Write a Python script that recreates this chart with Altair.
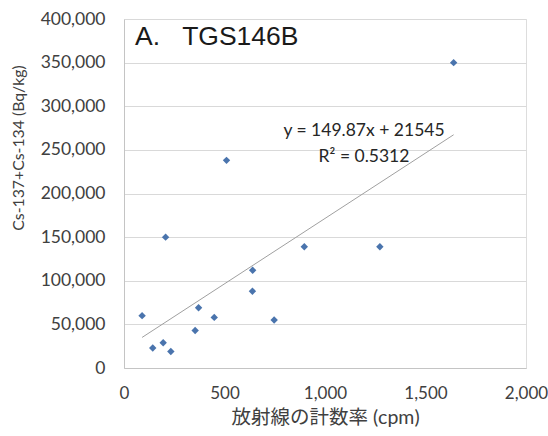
import altair as alt
import pandas as pd

# Data
cpm = [90, 143, 195, 233, 207, 354, 371, 449, 639, 640, 747, 897, 1273, 510, 1640]
bq = [60000, 23000, 29000, 19000, 150000, 43000, 69000, 58000, 88000, 112000, 55000, 139000, 139000, 238000, 350000]

slope = 149.87
intercept = 21545
eq_line1 = "y = 149.87x + 21545"
eq_line2 = "R² = 0.5312"
panel_title = "A.\u00a0\u00a0\u00a0TGS146B"
y_title = "Cs-137+Cs-134 (Bq/kg)"
x_title = "放射線の計数率 (cpm)"

x_ticks = [0, 500, 1000, 1500, 2000]
y_ticks = [0, 50000, 100000, 150000, 200000, 250000, 300000, 350000, 400000]

df = pd.DataFrame({"cpm": cpm, "bq": bq})
trend = pd.DataFrame({"cpm": [min(cpm), max(cpm)]})

FONT = "Lato, Noto Sans CJK JP, sans-serif"
TXT = "#404040"
FRAME = "#c4c4c4"

xs = alt.Scale(domain=[0, 2000], nice=False, zero=True)
ys = alt.Scale(domain=[0, 400000], nice=False)

x_axis = alt.Axis(values=x_ticks, format=",.0f", title=x_title,
                  grid=False, ticks=False, labelPadding=17, labelFlush=False,
                  titleBaseline="middle", titleY=49,
                  domainColor=FRAME, labelFontSize=17, titleFontSize=19.5,
                  labelColor=TXT, titleColor=TXT, labelFont=FONT, titleFont=FONT,
                  titleFontWeight="normal")
y_axis = alt.Axis(values=y_ticks, format=",.0f", title=None,
                  grid=True, gridColor="#d9d9d9", ticks=False, labelPadding=19,
                  labelFlush=False, domainColor=FRAME, labelFontSize=17.5,
                  labelColor=TXT, labelFont=FONT)

x_enc = alt.X("cpm:Q", scale=xs, axis=x_axis)
y_enc = alt.Y("bq:Q", scale=ys, axis=y_axis)

points = alt.Chart(df).mark_point(
    shape="diamond", filled=True, size=55, color="#4a74ad", opacity=1
).encode(x=x_enc, y=y_enc)

line = alt.Chart(trend).transform_calculate(
    bq=f"{slope} * datum.cpm + {intercept}"
).mark_line(color="#a0a0a0", strokeWidth=1).encode(x=x_enc, y=y_enc)

def label(txt, x, y, size, font, align="center", baseline="middle", color="#262626", angle=0):
    return alt.Chart(pd.DataFrame({"t": [txt]})).mark_text(
        font=font, fontSize=size, color=color, align=align, baseline=baseline, angle=angle
    ).encode(text="t:N", x=alt.value(x), y=alt.value(y))

eq1 = label(eq_line1, 240, 112, 17.5, FONT)
eq2 = label(eq_line2, 240, 138, 17.5, FONT)
ttl = label(panel_title, 11, 26, 26.5, "Liberation Sans", align="left",
            baseline="alphabetic", color="#1a1a1a")
ytl = label(y_title, -105, 129, 15.8, FONT, color=TXT, angle=270)

chart = alt.layer(line, points, eq1, eq2, ttl, ytl).properties(
    width=402, height=349,
    autosize=alt.AutoSizeParams(type="none"),
    padding={"left": 124, "top": 19, "right": 22, "bottom": 68},
).configure_view(stroke=FRAME, strokeWidth=1).configure(background="white")

chart.save("out.html", embed_options={"renderer": "svg", "actions": False})
